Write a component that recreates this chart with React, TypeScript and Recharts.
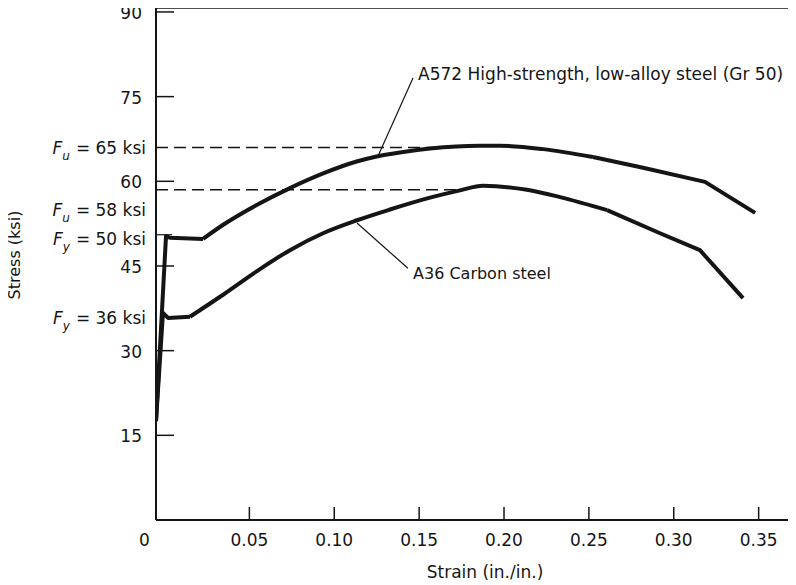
import { LineChart, Line, XAxis, YAxis, ReferenceLine, ReferenceDot } from "recharts";

// values
const a572Strain = [-0.005, 0.0009, 0.0032, 0.0227, 0.0346, 0.0543, 0.0739, 0.0935, 0.1132, 0.125, 0.1407, 0.1564, 0.1859, 0.1976, 0.223, 0.2524, 0.2819, 0.3184, 0.3479];
const a572Stress = [17.5, 50.3, 50.0, 49.8, 52.3, 55.8, 58.8, 61.4, 63.5, 64.4, 65.2, 65.8, 66.3, 66.3, 65.7, 64.3, 62.4, 59.9, 54.4];

const a36Strain = [-0.005, -0.0009, 0.0021, 0.015, 0.0345, 0.0545, 0.0739, 0.0934, 0.1134, 0.1328, 0.1564, 0.1741, 0.1876, 0.2135, 0.233, 0.2607, 0.2919, 0.3154, 0.3408];
const a36Stress = [17.5, 36.7, 35.8, 36.0, 39.9, 44.1, 47.8, 50.8, 53.1, 55.0, 57.1, 58.4, 59.2, 58.5, 57.2, 54.9, 50.8, 47.8, 39.3];

const xTicks = [0, 0.05, 0.1, 0.15, 0.2, 0.25, 0.3, 0.35];
const yTicks = [15, 30, 45, 60, 75, 90];

// dashed Fu lines as drawn, and where they stop on the curves
const fuA572 = 66;
const fuA572End = 0.165;
const fuA36 = 58.5;
const fuA36End = 0.174;
const fyA572 = 50;
const fyA36 = 36;

const stressNotes = [
  { value: fuA572, sub: "u", text: "65 ksi" },
  { value: fuA36, sub: "u", text: "58 ksi" },
  { value: fyA572, sub: "y", text: "50 ksi" },
  { value: fyA36, sub: "y", text: "36 ksi" },
];

const xMin = -0.005;
const xMax = 0.372;
const yMax = 90.7;

const a572Data = a572Strain.map((s, i) => ({ strain: s, stress: a572Stress[i] }));
const a36Data = a36Strain.map((s, i) => ({ strain: s, stress: a36Stress[i] }));

// elastic part + yield plateau and the falling tail are straight,
// strain hardening around the peak is a smooth curve
const a572Elastic = a572Data.slice(0, 4);
const a572Hardening = a572Data.slice(3, 16);
const a572Tail = a572Data.slice(15);
const a36Elastic = a36Data.slice(0, 4);
const a36Hardening = a36Data.slice(3, 16);
const a36Tail = a36Data.slice(15);

const INK = "#151515";
const FONT = "'DejaVu Sans', 'Liberation Sans', sans-serif";
const AXIS_X = 156;
const AXIS_Y = 520;

function StrainTick(props: any) {
  const { x, payload } = props;
  const v = payload.value;
  if (v === 0) {
    return (
      <text x={x - 20} y={546} textAnchor="middle" fontSize={17} fill={INK} fontFamily={FONT}>
        0
      </text>
    );
  }
  return (
    <g>
      <line x1={x} x2={x} y1={AXIS_Y} y2={AXIS_Y - 13} stroke={INK} strokeWidth={1.5} />
      <text x={x} y={546} textAnchor="middle" fontSize={17} fill={INK} fontFamily={FONT}>
        {v.toFixed(2)}
      </text>
    </g>
  );
}

function StressTick(props: any) {
  const { y, payload } = props;
  const v = payload.value;
  const note = stressNotes.find((n) => n.value === v);
  if (note) {
    const shift = v === fuA36 ? 19 : 0;
    return (
      <g>
        {v === fyA572 && <line x1={AXIS_X} x2={AXIS_X + 16} y1={y - 3} y2={y - 3} stroke={INK} strokeWidth={1.2} />}
        <text x={146} y={y + 7 + shift} textAnchor="end" fontSize={17} fill={INK} fontFamily={FONT}>
          <tspan fontStyle="italic">F</tspan>
          <tspan fontStyle="italic" fontSize={12} dy={6}>{note.sub}</tspan>
          <tspan dy={-6} dx={6}>= {note.text}</tspan>
        </text>
      </g>
    );
  }
  return (
    <g>
      <line x1={AXIS_X} x2={AXIS_X + 18} y1={y} y2={y} stroke={INK} strokeWidth={1.5} />
      <text x={142} y={y + 7} textAnchor="end" fontSize={17} fill={INK} fontFamily={FONT}>
        {v}
      </text>
    </g>
  );
}

function CurveName({ cx, cy, text, size }: any) {
  return (
    <text x={cx} y={cy + 6} fontSize={size} fill={INK} fontFamily={FONT}>
      {text}
    </text>
  );
}

function steelLine(data: any[], curve: "linear" | "monotone", key: string) {
  return (
    <Line
      key={key}
      data={data}
      dataKey="stress"
      type={curve}
      dot={false}
      activeDot={false}
      stroke={INK}
      strokeWidth={4}
      strokeLinejoin="round"
      isAnimationActive={false}
    />
  );
}

export default function App() {
  return (
    <div style={{ margin: "-8px -8px 0 -8px", width: 796, height: 585, background: "#fff" }}>
      <LineChart width={796} height={585} margin={{ top: 8, right: 0, bottom: 0, left: 0 }}>
        <XAxis
          dataKey="strain"
          type="number"
          domain={[xMin, xMax]}
          ticks={xTicks}
          interval={0}
          allowDataOverflow
          height={65}
          axisLine={{ stroke: INK, strokeWidth: 2 }}
          tickLine={false}
          tick={<StrainTick />}
          label={() => (
            <text x={485} y={578} textAnchor="middle" fontSize={17} fill={INK} fontFamily={FONT}>
              Strain (in./in.)
            </text>
          )}
        />
        <YAxis
          type="number"
          domain={[0, yMax]}
          ticks={[...yTicks, ...stressNotes.map((n) => n.value)]}
          interval={0}
          allowDataOverflow
          width={156}
          axisLine={{ stroke: INK, strokeWidth: 2 }}
          tickLine={false}
          tick={<StressTick />}
          label={() => (
            <text transform="translate(20,255) rotate(-90)" textAnchor="middle" fontSize={16} fill={INK} fontFamily={FONT}>
              Stress (ksi)
            </text>
          )}
        />
        <ReferenceLine y={yMax} stroke={INK} strokeWidth={1.5} />
        <ReferenceLine segment={[{ x: 0.3705, y: 46 }, { x: 0.3705, y: yMax }]} stroke="#8c8c8c" strokeWidth={2} />
        <ReferenceLine segment={[{ x: xMin, y: fuA572 }, { x: fuA572End, y: fuA572 }]} stroke={INK} strokeWidth={1.5} strokeDasharray="12 6" />
        <ReferenceLine segment={[{ x: xMin, y: fuA36 }, { x: fuA36End, y: fuA36 }]} stroke={INK} strokeWidth={1.5} strokeDasharray="12 6" />
        <ReferenceLine segment={[{ x: 0.1464, y: 78.3 }, { x: 0.1258, y: 64.5 }]} stroke={INK} strokeWidth={1.2} />
        <ReferenceLine segment={[{ x: 0.1434, y: 44.6 }, { x: 0.1134, y: 52.6 }]} stroke={INK} strokeWidth={1.2} />
        {steelLine(a572Elastic, "linear", "a572e")}
        {steelLine(a572Hardening, "monotone", "a572h")}
        {steelLine(a572Tail, "linear", "a572t")}
        {steelLine(a36Elastic, "linear", "a36e")}
        {steelLine(a36Hardening, "monotone", "a36h")}
        {steelLine(a36Tail, "linear", "a36t")}
        <ReferenceDot
          x={0.1494}
          y={79}
          r={0}
          shape={(p: any) => <CurveName {...p} text="A572 High-strength, low-alloy steel (Gr 50)" size={17} />}
        />
        <ReferenceDot x={0.1464} y={43.8} r={0} shape={(p: any) => <CurveName {...p} text="A36 Carbon steel" size={16} />} />
      </LineChart>
    </div>
  );
}
